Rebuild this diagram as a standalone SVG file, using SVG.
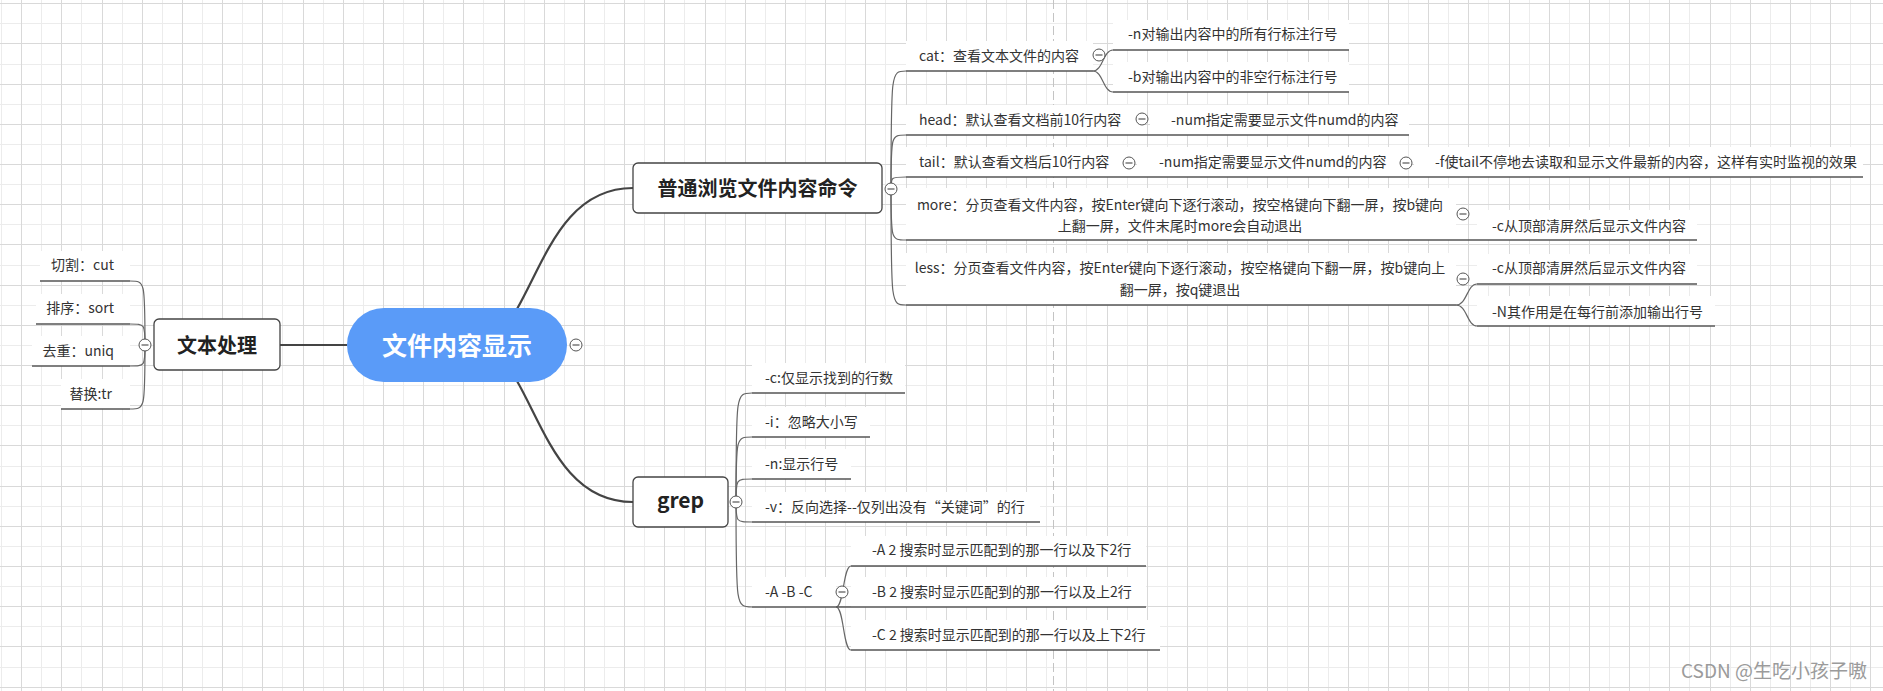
<svg xmlns="http://www.w3.org/2000/svg" width="1883" height="691" viewBox="0 0 1883 691">
<style>
text{font-family:"Noto Sans CJK SC","Noto Sans",sans-serif;fill:#333;font-size:14px}
.b{font-weight:bold;fill:#222}
.ce{text-anchor:end}
.cm{text-anchor:middle}
.bg{fill:#fff}
.ul{fill:none;stroke:#555;stroke-width:1.3}
.box{fill:#fff;stroke:#444;stroke-width:1.3}
.main{fill:none;stroke:#444;stroke-width:2.2}
.br{fill:none;stroke:#666;stroke-width:1.2}
.tg circle{fill:#fff;stroke:#555;stroke-width:1}
.tg path{stroke:#555;stroke-width:1.2}
</style>
<rect width="1883" height="691" fill="#fff"/>
<g id="grid">
<path fill="none" stroke="#ececec" stroke-width="1" d="M1.5 0V691M41.5 0V691M81.5 0V691M122.5 0V691M162.5 0V691M202.5 0V691M242.5 0V691M282.5 0V691M323.5 0V691M363.5 0V691M403.5 0V691M443.5 0V691M483.5 0V691M524.5 0V691M564.5 0V691M604.5 0V691M644.5 0V691M684.5 0V691M725.5 0V691M765.5 0V691M805.5 0V691M845.5 0V691M885.5 0V691M926.5 0V691M966.5 0V691M1006.5 0V691M1046.5 0V691M1086.5 0V691M1127.5 0V691M1167.5 0V691M1207.5 0V691M1247.5 0V691M1287.5 0V691M1328.5 0V691M1368.5 0V691M1408.5 0V691M1448.5 0V691M1488.5 0V691M1529.5 0V691M1569.5 0V691M1609.5 0V691M1649.5 0V691M1689.5 0V691M1730.5 0V691M1770.5 0V691M1810.5 0V691M1850.5 0V691M0 23.5H1883M0 64.5H1883M0 104.5H1883M0 144.5H1883M0 184.5H1883M0 224.5H1883M0 265.5H1883M0 305.5H1883M0 345.5H1883M0 385.5H1883M0 425.5H1883M0 466.5H1883M0 506.5H1883M0 546.5H1883M0 586.5H1883M0 626.5H1883M0 667.5H1883"/>
<path fill="none" stroke="#d9d9d9" stroke-width="1" d="M21.5 0V691M61.5 0V691M102.5 0V691M142.5 0V691M182.5 0V691M222.5 0V691M262.5 0V691M303.5 0V691M343.5 0V691M383.5 0V691M423.5 0V691M463.5 0V691M504.5 0V691M544.5 0V691M584.5 0V691M624.5 0V691M664.5 0V691M705.5 0V691M745.5 0V691M785.5 0V691M825.5 0V691M865.5 0V691M906.5 0V691M946.5 0V691M986.5 0V691M1026.5 0V691M1066.5 0V691M1107.5 0V691M1147.5 0V691M1187.5 0V691M1227.5 0V691M1267.5 0V691M1308.5 0V691M1348.5 0V691M1388.5 0V691M1428.5 0V691M1468.5 0V691M1509.5 0V691M1549.5 0V691M1589.5 0V691M1629.5 0V691M1669.5 0V691M1710.5 0V691M1750.5 0V691M1790.5 0V691M1830.5 0V691M1870.5 0V691M0 3.5H1883M0 43.5H1883M0 84.5H1883M0 124.5H1883M0 164.5H1883M0 204.5H1883M0 244.5H1883M0 285.5H1883M0 325.5H1883M0 365.5H1883M0 405.5H1883M0 445.5H1883M0 486.5H1883M0 526.5H1883M0 566.5H1883M0 606.5H1883M0 646.5H1883M0 687.5H1883"/>
<path fill="none" stroke="#c4c4c4" stroke-width="1" stroke-dasharray="9 4" d="M1053.5 0V691"/>
</g>

<g id="connectors">
<path class="main" d="M280 345H347"/>
<path class="main" d="M517 309C545 260 565 188 633 188"/>
<path class="main" d="M517 381C545 430 565 502 633 502"/>
<path class="br" d="M891 189C891 71 891 71 906 71"/>
<path class="br" d="M891 189C891 135 891 135 906 135"/>
<path class="br" d="M891 189C891 177 891 177 906 177"/>
<path class="br" d="M891 189C891 240 891 240 906 240"/>
<path class="br" d="M891 189C891 305 891 305 906 305"/>
<path class="br" d="M736 502C736 393 736 393 752 393"/>
<path class="br" d="M736 502C736 437 736 437 752 437"/>
<path class="br" d="M736 502C736 479 736 479 752 479"/>
<path class="br" d="M736 502C736 522 736 522 752 522"/>
<path class="br" d="M736 502C736 607 736 607 752 607"/>
<path class="br" d="M145 345C145 281 145 281 130 281"/>
<path class="br" d="M145 345C145 324 145 324 130 324"/>
<path class="br" d="M145 345C145 366 145 366 130 366"/>
<path class="br" d="M145 345C145 409 145 409 130 409"/>
<path class="br" d="M1093 71C1103 71 1103 50 1113 50"/>
<path class="br" d="M1093 71C1103 71 1103 92 1113 92"/>
<path class="br" d="M1456 305C1467 305 1467 284 1477 284"/>
<path class="br" d="M1456 305C1467 305 1467 326 1477 326"/>
<path class="br" d="M836 607C844 607 843 566 851 566"/>
<path class="br" d="M836 607C844 607 843 650 851 650"/>
</g>

<g id="n-root">
<rect x="347" y="308" width="220" height="74" rx="37" fill="#5a9bf8"/>
<text x="457" y="354.5" class="b cm" style="font-size:25px;fill:#fff">文件内容显示</text>
</g>

<g id="n-text">
<rect class="box" x="154" y="319" width="126" height="51" rx="5"/>
<text x="217" y="352.6" class="b cm" style="font-size:20px">文本处理</text>
</g>
<g id="n-cut"><rect class="bg" x="40" y="251" width="90" height="30"/><path class="ul" d="M40 281H130"/><text x="114" y="270" class="ce">切割：cut</text></g>
<g id="n-sort"><rect class="bg" x="36" y="294" width="94" height="30"/><path class="ul" d="M36 324H130"/><text x="114" y="313" class="ce">排序：sort</text></g>
<g id="n-uniq"><rect class="bg" x="32" y="336" width="98" height="30"/><path class="ul" d="M32 366H130"/><text x="114" y="355.5" class="ce">去重：uniq</text></g>
<g id="n-tr"><rect class="bg" x="61" y="379" width="69" height="30"/><path class="ul" d="M61 409H130"/><text x="112" y="398.5" class="ce">替换:tr</text></g>

<g id="n-browse">
<rect class="box" x="633" y="163" width="249" height="50" rx="5"/>
<text x="757.5" y="195.6" class="b cm" style="font-size:20px">普通浏览文件内容命令</text>
</g>
<g id="n-cat"><rect class="bg" x="906" y="41" width="187" height="30"/><path class="ul" d="M906 71H1093"/><text x="919" y="61">cat：查看文本文件的内容</text></g>
<g id="n-cat-n"><rect class="bg" x="1113" y="20" width="236" height="30"/><path class="ul" d="M1113 50H1349"/><text x="1128" y="39">-n对输出内容中的所有行标注行号</text></g>
<g id="n-cat-b"><rect class="bg" x="1113" y="62" width="236" height="30"/><path class="ul" d="M1113 92H1349"/><text x="1128" y="82">-b对输出内容中的非空行标注行号</text></g>
<g id="n-head"><rect class="bg" x="906" y="105" width="236" height="30"/><path class="ul" d="M906 135H1142"/><text x="919" y="124.5">head：默认查看文档前10行内容</text></g>
<g id="n-head-num"><rect class="bg" x="1150" y="105" width="259" height="30"/><path class="ul" d="M1142 135H1409"/><text x="1171" y="124.5">-num指定需要显示文件numd的内容</text></g>
<g id="n-tail"><rect class="bg" x="906" y="147" width="223" height="30"/><path class="ul" d="M906 177H1129"/><text x="919" y="167">tail：默认查看文档后10行内容</text></g>
<g id="n-tail-num"><rect class="bg" x="1137" y="147" width="269" height="30"/><path class="ul" d="M1129 177H1406"/><text x="1159" y="167">-num指定需要显示文件numd的内容</text></g>
<g id="n-tail-f"><rect class="bg" x="1414" y="147" width="449" height="30"/><path class="ul" d="M1406 177H1863"/><text x="1435" y="167">-f使tail不停地去读取和显示文件最新的内容，这样有实时监视的效果</text></g>
<g id="n-more"><rect class="bg" x="906" y="188" width="550" height="52"/><path class="ul" d="M906 240H1463"/><text x="1180" y="210" class="cm">more：分页查看文件内容，按Enter键向下逐行滚动，按空格键向下翻一屏，按b键向</text><text x="1180" y="231" class="cm">上翻一屏，文件末尾时more会自动退出</text></g>
<g id="n-more-c"><rect class="bg" x="1477" y="210" width="220" height="30"/><path class="ul" d="M1463 240H1697"/><text x="1492" y="231">-c从顶部清屏然后显示文件内容</text></g>
<g id="n-less"><rect class="bg" x="906" y="253" width="550" height="52"/><path class="ul" d="M906 305H1456"/><text x="1180" y="273" class="cm">less：分页查看文件内容，按Enter键向下逐行滚动，按空格键向下翻一屏，按b键向上</text><text x="1180" y="295" class="cm">翻一屏，按q键退出</text></g>
<g id="n-less-c"><rect class="bg" x="1477" y="254" width="220" height="30"/><path class="ul" d="M1477 284H1697"/><text x="1492" y="273">-c从顶部清屏然后显示文件内容</text></g>
<g id="n-less-N"><rect class="bg" x="1477" y="296" width="238" height="30"/><path class="ul" d="M1477 326H1715"/><text x="1492" y="317">-N其作用是在每行前添加输出行号</text></g>

<g id="n-grep">
<rect class="box" x="633" y="477" width="95" height="50" rx="5"/>
<text x="680.5" y="508" class="b cm" style="font-size:21px">grep</text>
</g>
<g id="n-grep-c"><rect class="bg" x="752" y="363" width="153" height="30"/><path class="ul" d="M752 393H905"/><text x="765" y="383">-c:仅显示找到的行数</text></g>
<g id="n-grep-i"><rect class="bg" x="752" y="407" width="118" height="30"/><path class="ul" d="M752 437H870"/><text x="765" y="427">-i：忽略大小写</text></g>
<g id="n-grep-n"><rect class="bg" x="752" y="449" width="99" height="30"/><path class="ul" d="M752 479H851"/><text x="765" y="469">-n:显示行号</text></g>
<g id="n-grep-v"><rect class="bg" x="752" y="492" width="288" height="30"/><path class="ul" d="M752 522H1040"/><text x="765" y="512">-v：反向选择--仅列出没有“关键词”的行</text></g>
<g id="n-grep-abc"><rect class="bg" x="752" y="577" width="84" height="30"/><path class="ul" d="M752 607H842"/><text x="765" y="597">-A -B -C</text></g>
<g id="n-grep-A"><rect class="bg" x="851" y="536" width="295" height="30"/><path class="ul" d="M851 566H1146"/><text x="872" y="555">-A 2 搜索时显示匹配到的那一行以及下2行</text></g>
<g id="n-grep-B"><rect class="bg" x="851" y="577" width="295" height="30"/><path class="ul" d="M842 607H1146"/><text x="872" y="597">-B 2 搜索时显示匹配到的那一行以及上2行</text></g>
<g id="n-grep-C"><rect class="bg" x="851" y="620" width="309" height="30"/><path class="ul" d="M851 650H1160"/><text x="872" y="640">-C 2 搜索时显示匹配到的那一行以及上下2行</text></g>

<g id="toggles" class="tg">
<circle cx="576" cy="345" r="6"/><path d="M572.5 345H579.5"/>
<circle cx="145" cy="345" r="6"/><path d="M141.5 345H148.5"/>
<circle cx="891" cy="189" r="6"/><path d="M887.5 189H894.5"/>
<circle cx="736" cy="502" r="6"/><path d="M732.5 502H739.5"/>
<circle cx="1099" cy="55" r="6"/><path d="M1095.5 55H1102.5"/>
<circle cx="1142" cy="119" r="6"/><path d="M1138.5 119H1145.5"/>
<circle cx="1129" cy="163" r="6"/><path d="M1125.5 163H1132.5"/>
<circle cx="1406" cy="163" r="6"/><path d="M1402.5 163H1409.5"/>
<circle cx="1463" cy="214" r="6"/><path d="M1459.5 214H1466.5"/>
<circle cx="1463" cy="279" r="6"/><path d="M1459.5 279H1466.5"/>
<circle cx="842" cy="592" r="6"/><path d="M838.5 592H845.5"/>
</g>

<text x="1867" y="678" class="ce" style="font-size:19px;fill:#9b9b9b">CSDN @生吃小孩子嗷</text>
</svg>
